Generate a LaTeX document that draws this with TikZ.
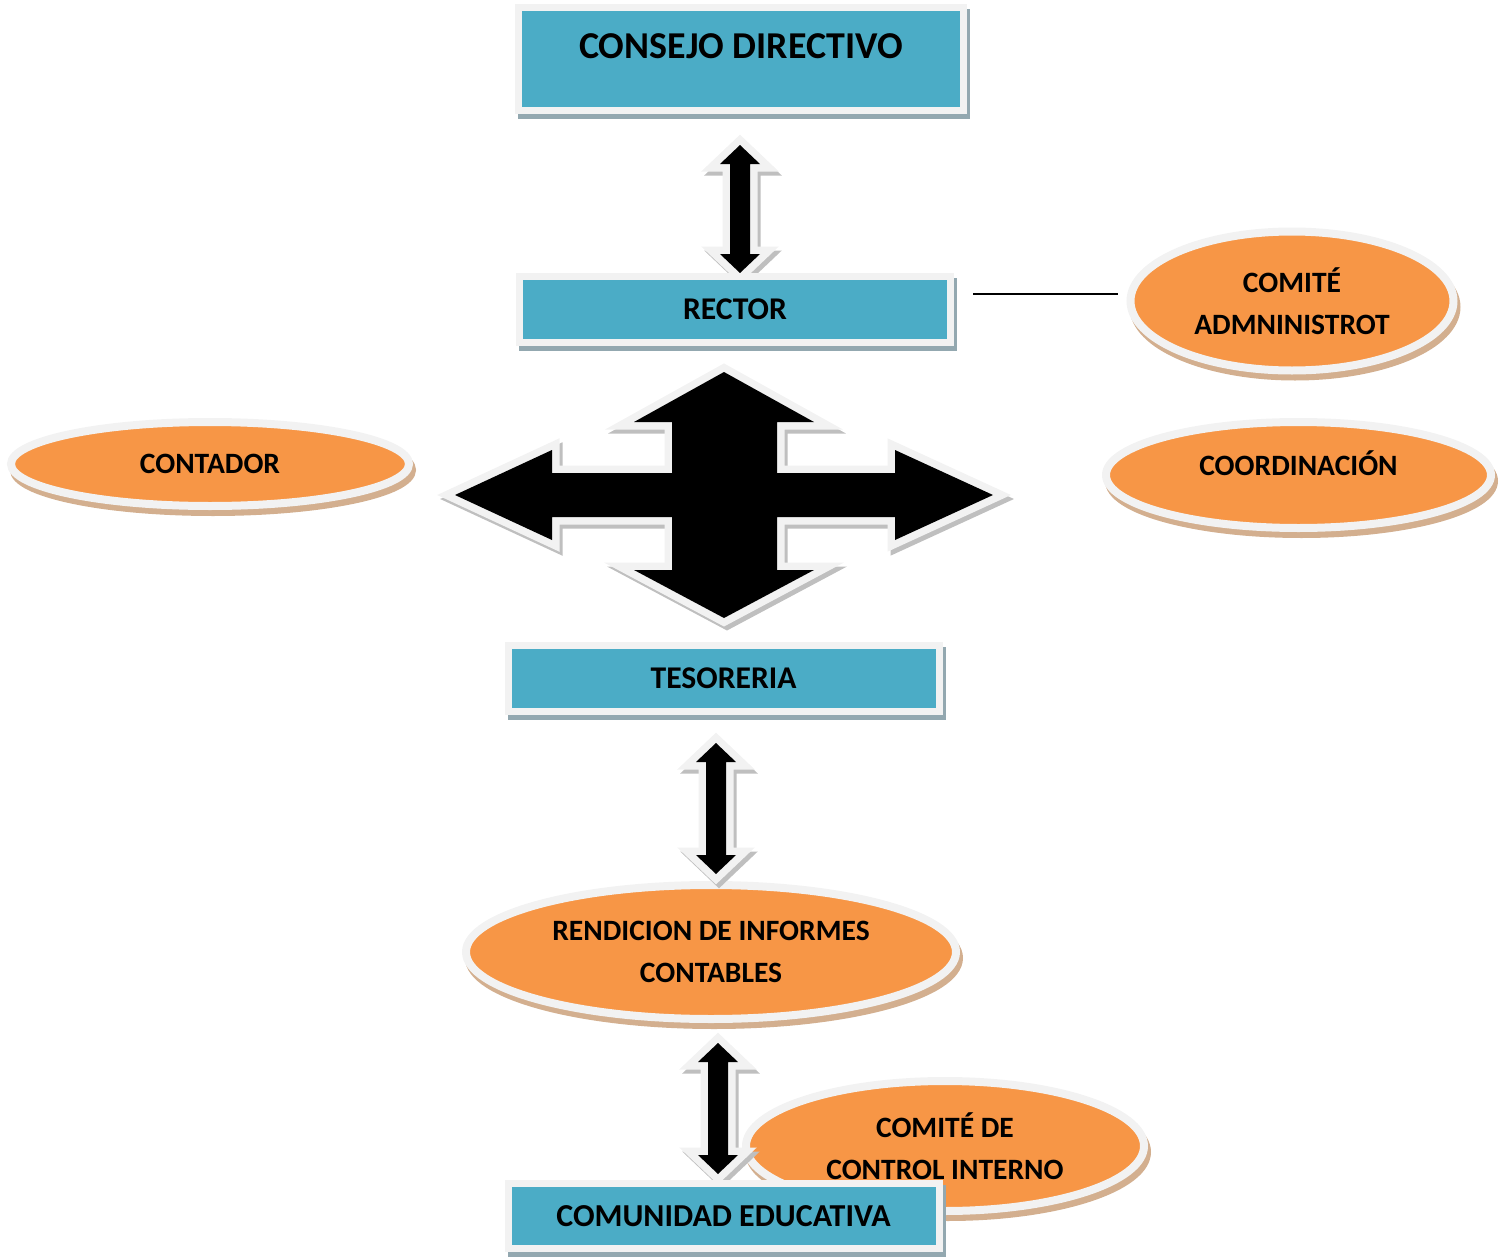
\documentclass[tikz,border=0pt]{standalone}
\usepackage{fontspec}
\setmainfont{Carlito}
\usetikzlibrary{shapes.geometric,shadows}
\definecolor{boxblue}{HTML}{4BACC6}
\definecolor{bubbleorange}{HTML}{F79646}
\definecolor{glow}{HTML}{F2F2F2}
\definecolor{boxshade}{HTML}{93A8B0}
\definecolor{bubbleshade}{HTML}{D3AF8F}
\definecolor{arrowshade}{HTML}{BFBFBF}
\tikzset
{
    orgbox/.style = {rectangle, fill=boxblue, draw=glow, line width=0.7mm, align=center, inner sep=0pt, font=\bfseries\fontsize{9}{11}\selectfont, drop shadow={shadow xshift=0.3mm, shadow yshift=-0.5mm, fill=boxshade, draw=boxshade, opacity=1}},
    bubble/.style = {ellipse, fill=bubbleorange, draw=glow, line width=0.8mm, align=center, inner sep=0pt, font=\bfseries\fontsize{8.4}{12}\selectfont, drop shadow={shadow xshift=0.3mm, shadow yshift=-0.6mm, fill=bubbleshade, draw=bubbleshade, opacity=1}},
    blockarrow/.style = {fill=black, line join=miter, preaction={fill=arrowshade, draw=arrowshade, line width=1.5mm, transform canvas={shift={(0.3mm,-0.4mm)}}}, preaction={draw=glow, line width=1.5mm}},
    link/.style = {line width=0.2mm, black}
}
% x, top tip, bottom tip
\newcommand\updownArrow[3]{%
  \path[blockarrow] (#1,#2) -- (#1+20,#2+19) -- (#1+10,#2+19) -- (#1+10,#3-19) -- (#1+20,#3-19)
    -- (#1,#3) -- (#1-20,#3-19) -- (#1-10,#3-19) -- (#1-10,#2+19) -- (#1-20,#2+19) -- cycle;}

\begin{document}
\begin{tikzpicture}[x=0.1mm, y=-0.1mm]
\useasboundingbox (0,0) rectangle (1507,1257);

\node (comiteadm) [bubble, minimum width=32.3mm, minimum height=13.9mm] at (1292,301) {COMITÉ\\ADMNINISTROT};
\node (coordinacion) [bubble, minimum width=38.5mm, minimum height=10.6mm, text height=1.9mm, text depth=1.8mm] at (1298.5,475) {COORDINACIÓN};
\node (contador) [bubble, minimum width=39.8mm, minimum height=8.4mm] at (210,464) {CONTADOR};
\node (rendicion) [bubble, minimum width=49mm, minimum height=13.4mm] at (711,952) {RENDICION DE INFORMES\\CONTABLES};
\node (control) [bubble, minimum width=39.8mm, minimum height=13mm] at (945,1146) {COMITÉ DE\\CONTROL INTERNO};

\updownArrow{740}{145}{273}
\updownArrow{716}{743}{874}
\updownArrow{718}{1043}{1174}
\path[blockarrow] (724,372) -- (814,422) -- (777,422) -- (777,473) -- (895,473) -- (895,450) -- (993,495)
  -- (895,540) -- (895,517) -- (777,517) -- (777,570) -- (814,570) -- (724,618) -- (634,570) -- (672,570)
  -- (672,517) -- (552,517) -- (552,540) -- (455,495) -- (552,450) -- (552,473) -- (672,473) -- (672,422)
  -- (634,422) -- cycle;

\node (consejo) [orgbox, minimum width=44.5mm, minimum height=10.25mm, font=\bfseries\fontsize{10.8}{13}\selectfont, text height=2.45mm, text depth=2.6mm] at (741,59) {CONSEJO DIRECTIVO};
\node (rector) [orgbox, minimum width=43.1mm, minimum height=6.65mm] at (735,309.5) {RECTOR};
\node (tesoreria) [orgbox, minimum width=43.1mm, minimum height=6.6mm] at (723.5,678.5) {TESORERIA};
\node (comunidad) [orgbox, minimum width=43.1mm, minimum height=6.5mm, font=\bfseries\fontsize{9.1}{11}\selectfont] at (723.5,1216) {COMUNIDAD EDUCATIVA};

\coordinate (linkstart) at (973,293.5);
\draw[link, shorten >=0.85mm] (linkstart) -- (linkstart -| comiteadm.west);
\end{tikzpicture}
\end{document}
